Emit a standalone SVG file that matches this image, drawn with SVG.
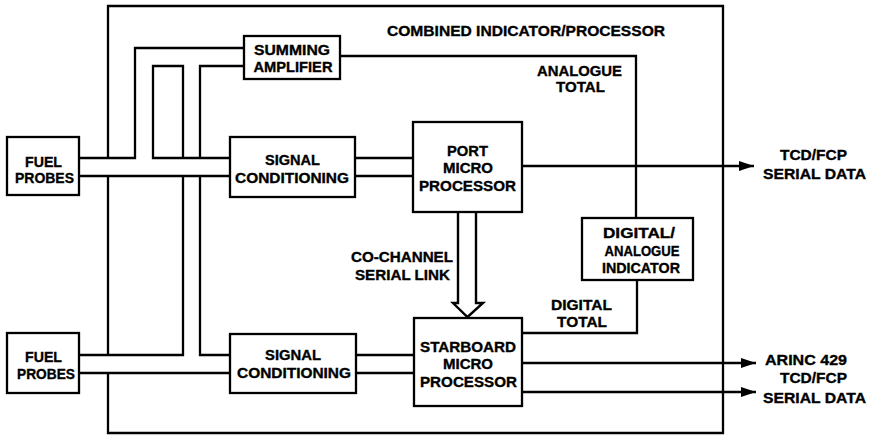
<svg xmlns="http://www.w3.org/2000/svg" width="869" height="438" viewBox="0 0 869 438">
<style>
.box{fill:#fff;stroke:#000;stroke-width:2.3}
.ln{fill:none;stroke:#000;stroke-width:2.3}
text{font-family:"Liberation Sans",Arial,sans-serif;font-weight:bold;font-size:15px;fill:#000;stroke:#000;stroke-width:0.35;text-anchor:middle}
.st{text-anchor:start}
</style>
<defs>
<marker id="ah" markerWidth="16" markerHeight="10" refX="15" refY="5" orient="auto" markerUnits="userSpaceOnUse"><path d="M0,0 L15,5 L0,10 Z" fill="#000"/></marker>
</defs>
<rect width="869" height="438" fill="#fff"/>
<g id="combined">
<path class="ln" stroke-width="2.6" d="M108,158 V6 H723 V433 H108 V373 M108,176 V355"/>
<text x="526" y="36" textLength="278" lengthAdjust="spacingAndGlyphs">COMBINED INDICATOR/PROCESSOR</text>
</g>
<g id="connectors">
<path class="ln" d="M79,158 H135 V48 H244"/>
<path class="ln" d="M230,158 H153 V66 H183 V158"/>
<path class="ln" d="M79,355 H183 V176"/>
<path class="ln" d="M79,176 H230"/>
<path class="ln" d="M244,66 H200 V158"/>
<path class="ln" d="M200,176 V355 H230"/>
<path class="ln" d="M79,373 H230"/>
<path class="ln" d="M355,158 H413 M355,176 H413"/>
<path class="ln" d="M356,355 H414 M356,373 H414"/>
<path class="ln" stroke-width="2.6" d="M522,166 H754" marker-end="url(#ah)"/>
<path class="ln" stroke-width="2.6" d="M340,56 H636 V218"/>
<path class="ln" stroke-width="2.6" d="M637,280 V333 H522"/>
<path class="ln" stroke-width="2.6" d="M522,363 H756" marker-end="url(#ah)"/>
<path class="ln" stroke-width="2.6" d="M522,392 H756" marker-end="url(#ah)"/>
<path d="M458,212 V303 H453 L467.5,317 L483,303 H476 V212" fill="#fff" stroke="#000" stroke-width="2.4" stroke-linejoin="miter"/>
<text x="579.5" y="76" textLength="85" lengthAdjust="spacingAndGlyphs">ANALOGUE</text>
<text x="580.5" y="92" textLength="49" lengthAdjust="spacingAndGlyphs">TOTAL</text>
<text x="581.5" y="310" textLength="61" lengthAdjust="spacingAndGlyphs">DIGITAL</text>
<text x="582" y="327" textLength="50" lengthAdjust="spacingAndGlyphs">TOTAL</text>
<text x="402" y="262" textLength="102" lengthAdjust="spacingAndGlyphs">CO-CHANNEL</text>
<text x="402.5" y="280" textLength="95" lengthAdjust="spacingAndGlyphs">SERIAL LINK</text>
<text x="813.5" y="160" textLength="67" lengthAdjust="spacingAndGlyphs">TCD/FCP</text>
<text x="814.5" y="179" textLength="103" lengthAdjust="spacingAndGlyphs">SERIAL DATA</text>
<text x="806" y="365" textLength="82" lengthAdjust="spacingAndGlyphs">ARINC 429</text>
<text x="813.5" y="383" textLength="67" lengthAdjust="spacingAndGlyphs">TCD/FCP</text>
<text x="814.5" y="403" textLength="103" lengthAdjust="spacingAndGlyphs">SERIAL DATA</text>
</g>
<g id="fuel-probes-1">
<rect class="box" x="7" y="137" width="72" height="58"/>
<text x="43.5" y="167" textLength="37" lengthAdjust="spacingAndGlyphs">FUEL</text>
<text x="44.5" y="183" textLength="59" lengthAdjust="spacingAndGlyphs">PROBES</text>
</g>
<g id="fuel-probes-2">
<rect class="box" x="7" y="333" width="72" height="60"/>
<text x="43.5" y="362" textLength="37" lengthAdjust="spacingAndGlyphs">FUEL</text>
<text x="46" y="379" textLength="58" lengthAdjust="spacingAndGlyphs">PROBES</text>
</g>
<g id="summing-amplifier">
<rect class="box" x="244" y="36" width="96" height="43"/>
<text x="292" y="55" textLength="76" lengthAdjust="spacingAndGlyphs">SUMMING</text>
<text x="293" y="72" textLength="79" lengthAdjust="spacingAndGlyphs">AMPLIFIER</text>
</g>
<g id="signal-conditioning-1">
<rect class="box" x="230" y="137" width="125" height="60"/>
<text x="292.5" y="165" textLength="55" lengthAdjust="spacingAndGlyphs">SIGNAL</text>
<text x="292" y="183" textLength="114" lengthAdjust="spacingAndGlyphs">CONDITIONING</text>
</g>
<g id="signal-conditioning-2">
<rect class="box" x="230" y="334" width="126" height="59"/>
<text x="293" y="360" textLength="56" lengthAdjust="spacingAndGlyphs">SIGNAL</text>
<text x="294" y="378" textLength="114" lengthAdjust="spacingAndGlyphs">CONDITIONING</text>
</g>
<g id="port-micro">
<rect class="box" x="413" y="122" width="109" height="90"/>
<text x="467.5" y="156" textLength="41" lengthAdjust="spacingAndGlyphs">PORT</text>
<text x="468" y="173" textLength="50" lengthAdjust="spacingAndGlyphs">MICRO</text>
<text x="467.5" y="191" textLength="97" lengthAdjust="spacingAndGlyphs">PROCESSOR</text>
</g>
<g id="starboard-micro">
<rect class="box" x="414" y="318" width="108" height="88"/>
<text x="468" y="352" textLength="96" lengthAdjust="spacingAndGlyphs">STARBOARD</text>
<text x="468" y="369" textLength="50" lengthAdjust="spacingAndGlyphs">MICRO</text>
<text x="468.5" y="387" textLength="97" lengthAdjust="spacingAndGlyphs">PROCESSOR</text>
</g>
<g id="indicator">
<rect class="box" x="582" y="218" width="111" height="62"/>
<text x="639" y="238" textLength="72" lengthAdjust="spacingAndGlyphs">DIGITAL/</text>
<text x="642" y="256" textLength="75" lengthAdjust="spacingAndGlyphs">ANALOGUE</text>
<text x="641" y="273" textLength="78" lengthAdjust="spacingAndGlyphs">INDICATOR</text>
</g>
</svg>
